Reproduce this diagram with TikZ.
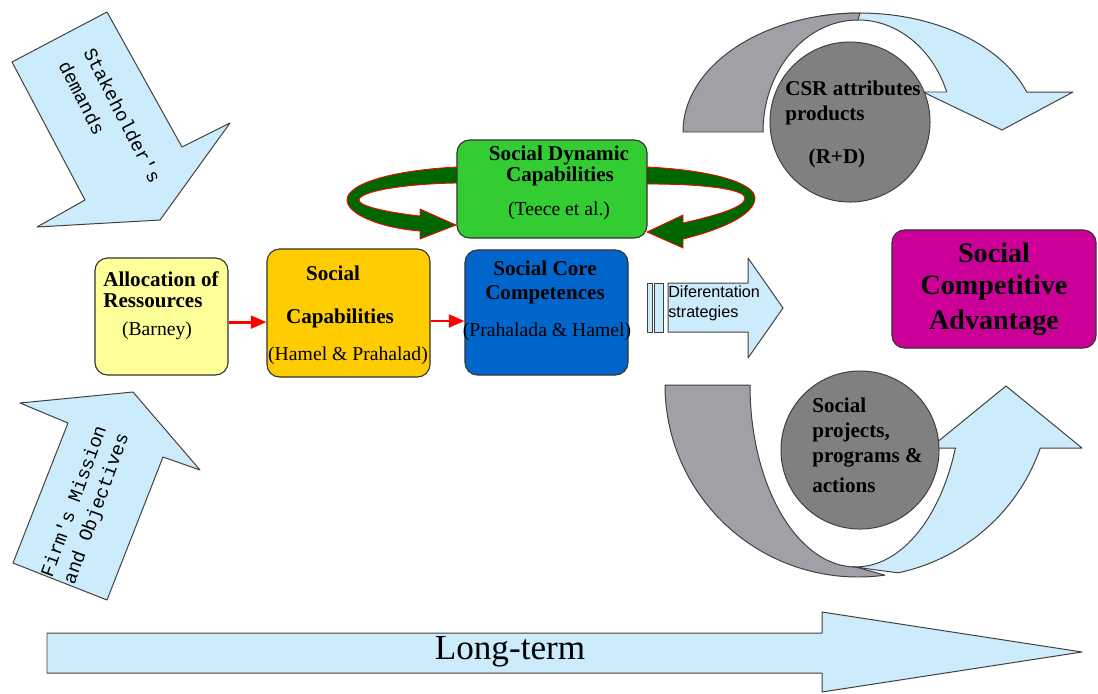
\documentclass[tikz,border=0pt]{standalone}
\usepackage{fontspec}
\setmainfont{Liberation Serif}
\setsansfont{Liberation Sans}
\newfontfamily\monofont{Liberation Mono}
\usetikzlibrary{arrows.meta}
\definecolor{lblue}{RGB}{204,236,252}
\definecolor{bandgray}{RGB}{160,160,166}
\definecolor{circgray}{RGB}{128,128,128}
\definecolor{lyellow}{RGB}{255,255,153}
\definecolor{gold}{RGB}{255,204,0}
\definecolor{cblue}{RGB}{0,102,204}
\definecolor{cgreen}{RGB}{51,204,51}
\definecolor{cmag}{RGB}{204,0,153}
\definecolor{dgreen}{RGB}{0,102,0}
\begin{document}
\begin{tikzpicture}[x=0.025cm,y=-0.025cm,line join=round,
  box/.style={draw=black!80,line width=0.8pt,rounded corners=9pt,inner sep=0pt},
  outl/.style={draw=black!75,line width=0.7pt},
  circ/.style={circle,draw=black!75,line width=0.7pt,fill=circgray,inner sep=0pt},
  bt/.style={font=\fontsize{15}{18}\selectfont\bfseries,inner sep=0pt},
  rt/.style={font=\fontsize{14}{17}\selectfont,inner sep=0pt},
  ct/.style={font=\fontsize{15}{18}\selectfont\bfseries,inner sep=0pt,anchor=west},
  ringarrow/.style={fill=dgreen,draw=red,line width=0.6pt},
  redarrow/.style={draw=red,line width=2pt,-{Triangle[length=11pt,width=9pt]}},
  mono/.style={font=\fontsize{13.5}{20}\selectfont\monofont,inner sep=0pt}]
\useasboundingbox (0,0) rectangle (1098,693);
\fill[white] (0,0) rectangle (1098,693);

% Stakeholder's demands arrow
\draw[outl,fill=lblue] (12,62) -- (107,12) -- (182,147) -- (230,123) -- (160,220) -- (37,227) -- (85,200) -- cycle;
\node[mono,rotate=-63,anchor=west] (stakeA) at (89,49) {Stakeholder's};
\node[mono,rotate=-63,anchor=west] (stakeB) at (64,62) {demands};

% Firm's Mission arrow
\draw[outl,fill=lblue] (68,423) -- (20,403) -- (133,392) -- (200,470) -- (163,457) -- (107,600) -- (13,563) -- cycle;
\node[mono,rotate=70] (firmA) at (73,501) {Firm's Mission};
\node[mono,rotate=70] (firmB) at (97,509) {and Objectives};

% Long-term arrow
\draw[outl,fill=lblue] (47,633) -- (822,633) -- (822,612) -- (1082,652) -- (822,692) -- (822,673) -- (47,673) -- cycle;
\node[font=\fontsize{25}{30}\selectfont,inner sep=0pt] (long) at (510,652) {Long-term};

% Green ring arrows
\draw[ringarrow] (457,167) .. controls (395,170) and (347,183) .. (347,200)
  .. controls (347,214) and (380,228) .. (420,231) -- (420,239) -- (456,225) -- (420,209) -- (420,216)
  .. controls (385,212) and (359,206) .. (359,200) .. controls (359,192) and (400,184) .. (457,183) -- cycle;
\draw[ringarrow] (647,167) .. controls (712,170) and (755,183) .. (755,198)
  .. controls (755,215) and (720,230) .. (683,239) -- (683,248) -- (647,232) -- (683,215) -- (683,223)
  .. controls (718,215) and (745,207) .. (745,198) .. controls (745,190) and (710,184) .. (647,184) -- cycle;

% Boxes
\node[box,fill=lyellow,minimum width=3.325cm,minimum height=2.925cm] (alloc) at (161.5,316.5) {};
\node[box,fill=gold,minimum width=4.075cm,minimum height=3.2cm] (cap) at (348.5,313) {};
\node[box,fill=cblue,minimum width=4.075cm,minimum height=3.125cm] (core) at (546.5,312.5) {};
\node[box,fill=cgreen,minimum width=4.75cm,minimum height=2.45cm] (dyn) at (552,189) {};
\node[box,fill=cmag,minimum width=5.1cm,minimum height=2.95cm] (adv) at (994,289) {};

% Box texts
\node[bt,anchor=west] (allocA) at (103,279) {Allocation of};
\node[bt,anchor=west] (allocB) at (103,301) {Ressources};
\node[rt] (allocC) at (157,331) {(Barney)};
\node[bt] (capA) at (333,273) {Social};
\node[bt] (capB) at (340,318) {Capabilities};
\node[rt] (capC) at (348,356) {(Hamel \& Prahalad)};
\node[bt] (coreA) at (545,268) {Social Core};
\node[bt] (coreB) at (545,295) {Competences};
\node[rt] (coreC) at (547,332) {(Prahalada \& Hamel)};
\node[bt] (dynA) at (559,155) {Social Dynamic};
\node[bt] (dynB) at (560,176) {Capabilities};
\node[rt] (dynC) at (559,211) {(Teece et al.)};
\node[font=\fontsize{20}{25}\selectfont\bfseries,inner sep=0pt] (advA) at (994,253) {Social};
\node[font=\fontsize{20}{25}\selectfont\bfseries,inner sep=0pt] (advB) at (994,288) {Competitive};
\node[font=\fontsize{20}{25}\selectfont\bfseries,inner sep=0pt] (advC) at (994,323) {Advantage};

% Red connectors
\draw[redarrow] ([yshift=-0.14cm]alloc.east) -- ([yshift=-0.14cm]alloc.east -| cap.west);
\draw[redarrow] ([yshift=-0.2cm]cap.east) -- ([yshift=-0.2cm]cap.east -| core.west);

% Differentiation strategies arrow
\draw[outl,fill=lblue] (647,283) rectangle (652,332);
\draw[outl,fill=lblue] (654,283) rectangle (663,332);
\draw[outl,fill=lblue] (668,283) -- (748,283) -- (748,258) -- (783,308) -- (748,358) -- (748,332) -- (668,332) -- cycle;
\node[font=\sffamily\fontsize{11.5}{14}\selectfont,inner sep=0pt,anchor=west] (diffA) at (668,292) {Diferentation};
\node[font=\sffamily\fontsize{11.5}{14}\selectfont,inner sep=0pt,anchor=west] (diffB) at (668,313) {strategies};

% Top curved arrow
\draw[outl,fill=lblue] (820.2,16.1) arc[start angle=-103,end angle=-19.6,x radius=177,y radius=119]
  -- (1073,92) -- (1002,130) -- (923,92) -- (946.7,92)
  arc[start angle=-20.9,end angle=-90,x radius=95,y radius=112] -- cycle;
\draw[outl,fill=bandgray] (683,132) arc[start angle=-180,end angle=-90,x radius=177,y radius=119]
  -- (858,20) arc[start angle=-90,end angle=-180,x radius=95,y radius=112] -- cycle;

% Bottom curved arrow
\draw[outl,fill=bandgray] (665,385) arc[start angle=-180,end angle=-278,x radius=193,y radius=192]
  -- (856,567) arc[start angle=-270,end angle=-180,x radius=106,y radius=182] -- cycle;
\draw[outl,fill=lblue] (898.1,572.8) arc[start angle=-282,end angle=-340.8,x radius=193,y radius=192]
  -- (1082,448) -- (1006,386) -- (930,448) -- (955.4,448)
  arc[start angle=-339.7,end angle=-268,x radius=106,y radius=182] -- cycle;

% Circles
\node[circ,minimum size=4cm] (csr) at (850,122) {};
\node[circ,minimum size=3.95cm] (soc) at (860,450) {};
\node[ct] (csrA) at (785,88) {CSR attributes};
\node[ct] (csrB) at (785,115) {products};
\node[ct,anchor=center] (csrC) at (837,158) {(R+D)};
\node[ct] (socA) at (812,405) {Social};
\node[ct] (socB) at (812,432) {projects,};
\node[ct] (socC) at (812,458) {programs \&};
\node[ct] (socD) at (812,485) {actions};
\end{tikzpicture}
\end{document}
